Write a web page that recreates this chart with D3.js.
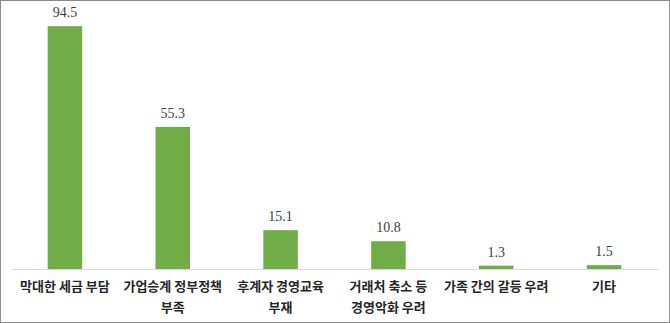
<!DOCTYPE html>
<html>
<head>
<meta charset="utf-8">
<script src="https://cdn.jsdelivr.net/npm/d3@7"></script>
<style>
  html, body { margin: 0; padding: 0; background: #fff; }
  svg { display: block; }
</style>
</head>
<body>
<div id="chart"></div>
<script>
// Chart data
const categories = [
    ['막대한 세금 부담'],
    ['가업승계 정부정책', '부족'],
    ['후계자 경영교육', '부재'],
    ['거래처 축소 등', '경영악화 우려'],
    ['가족 간의 갈등 우려'],
    ['기타']
];
const values = [94.5, 55.3, 15.1, 10.8, 1.3, 1.5];

const width = 670;
const height = 323;
const margin = { top: 12, right: 12, bottom: 54, left: 11 };

const svg = d3.select('#chart')
    .append('svg')
    .attr('width', width)
    .attr('height', height);

// outer border
svg.append('rect')
    .attr('x', 0.5)
    .attr('y', 0.5)
    .attr('width', width - 1)
    .attr('height', height - 1)
    .attr('fill', '#fff')
    .attr('stroke', '#8c8c8c');

const x = d3.scaleBand()
    .domain(d3.range(categories.length))
    .range([margin.left, width - margin.right])
    .paddingInner(0.68)
    .paddingOuter(0.34);

const y = d3.scaleLinear()
    .domain([0, 100])
    .range([height - margin.bottom, margin.top]);

// bars
svg.selectAll('.bar')
    .data(values)
    .enter()
    .append('rect')
    .attr('class', 'bar')
    .attr('x', (d, i) => x(i))
    .attr('y', d => y(d))
    .attr('width', x.bandwidth())
    .attr('height', d => y(0) - y(d))
    .attr('fill', '#70ad47');

// baseline axis
const axis = svg.append('g')
    .attr('transform', `translate(0, ${y(0)})`)
    .call(d3.axisBottom(x).tickSize(0).tickFormat(''));
axis.select('.domain')
    .attr('stroke', '#d9d9d9');

// value labels
svg.selectAll('.value')
    .data(values)
    .enter()
    .append('text')
    .attr('class', 'value')
    .attr('x', (d, i) => x(i) + x.bandwidth() / 2)
    .attr('y', d => y(d) - 9)
    .attr('text-anchor', 'middle')
    .attr('font-family', '"Liberation Serif", "DejaVu Serif", serif')
    .attr('font-size', '14px')
    .attr('fill', '#404040')
    .text(d => d.toFixed(1));

// category labels
const labels = svg.selectAll('.cat')
    .data(categories)
    .enter()
    .append('text')
    .attr('class', 'cat')
    .attr('x', (d, i) => x(i) + x.bandwidth() / 2)
    .attr('y', y(0) + 22)
    .attr('text-anchor', 'middle')
    .attr('font-family', '"Noto Sans CJK KR", sans-serif')
    .attr('font-size', '13px')
    .attr('font-weight', '700')
    .attr('fill', '#262626');

labels.each(function(lines) {
    const t = d3.select(this);
    lines.forEach((line, j) => {
        t.append('tspan')
            .attr('x', t.attr('x'))
            .attr('dy', j === 0 ? 0 : 21)
            .text(line);
    });
});
</script>
</body>
</html>
